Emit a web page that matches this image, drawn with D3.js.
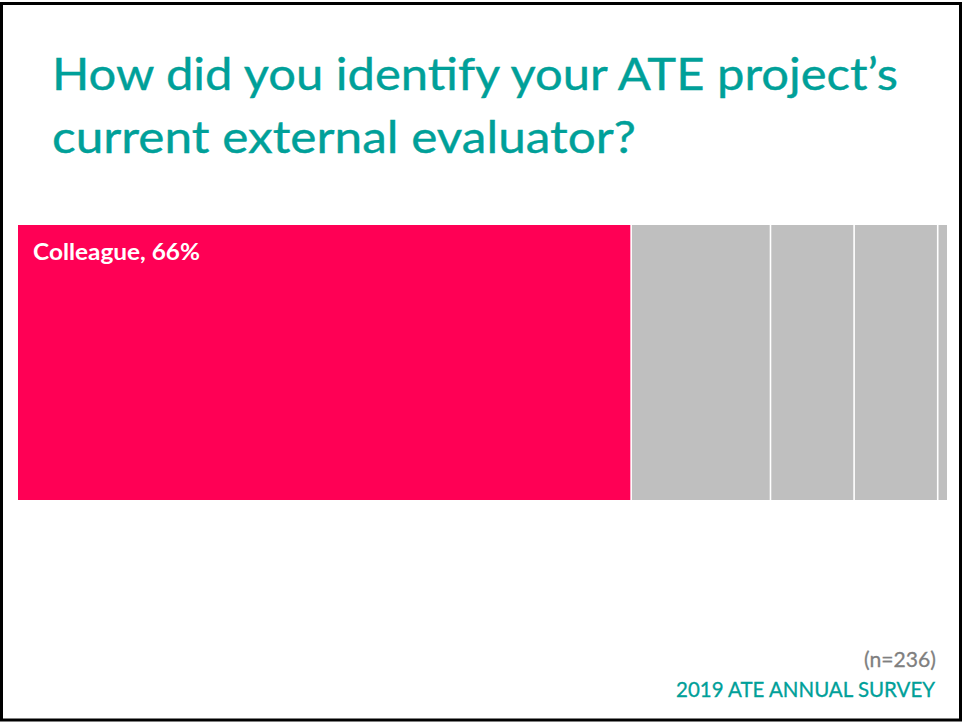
<!DOCTYPE html>
<html>
<head>
<meta charset="utf-8">
<script src="https://cdn.jsdelivr.net/npm/d3@7"></script>
<style>
  html, body { margin: 0; padding: 0; background: #fff; }
  svg { display: block; }
</style>
</head>
<body>
<svg id="chart" width="965" height="724"></svg>
<script>
// ---- data ----
const titleLines = ["How did you identify your ATE project\u2019s", "current external evaluator?"];
const categories = ["Colleague", "Other 1", "Other 2", "Other 3", "Other 4"];
const values = [66, 15, 9, 9, 1];
const showLabel = [true, false, false, false, false];
const sampleNote = "(n=236)";
const sourceNote = "2019 ATE ANNUAL SURVEY";

// ---- styles ----
const teal = "#00A099";
const pink = "#FF0055";
const gray = "#BFBFBF";
const font = "Lato, 'Open Sans', 'Noto Sans', sans-serif";

const svg = d3.select("#chart");

// frame
svg.append("rect")
  .attr("x", 1.5).attr("y", 3.5).attr("width", 959).attr("height", 716.5)
  .attr("fill", "#fff").attr("stroke", "#000").attr("stroke-width", 3);

// title
const titleY = [90, 153];
const titleW = [846, 584];
svg.selectAll("text.title").data(titleLines).join("text")
  .attr("class", "title")
  .attr("x", 52).attr("y", (d, i) => titleY[i])
  .attr("font-family", font).attr("font-size", 45)
  .attr("fill", teal)
  .attr("stroke", teal).attr("stroke-width", 0.4)
  .attr("textLength", (d, i) => titleW[i])
  .attr("lengthAdjust", "spacingAndGlyphs")
  .text(d => d);

// stacked bar
const x = d3.scaleLinear().domain([0, d3.sum(values)]).range([18, 947]);
const y = d3.scaleBand().domain(["all"]).range([225, 500]).padding(0);

let acc = 0;
const segs = values.map((v, i) => {
  const s = { cat: categories[i], v, x0: acc, x1: acc + v, i };
  acc += v;
  return s;
});
const gap = 1.6;
svg.selectAll("rect.seg").data(segs).join("rect")
  .attr("class", "seg")
  .attr("x", d => x(d.x0) + (d.i > 0 ? gap / 2 : 0))
  .attr("y", y("all"))
  .attr("width", d => x(d.x1) - x(d.x0) - (d.i > 0 ? gap / 2 : 0) - (d.i < segs.length - 1 ? gap / 2 : 0))
  .attr("height", y.bandwidth())
  .attr("fill", d => d.i === 0 ? pink : gray);

svg.selectAll("text.seglabel").data(segs.filter(d => showLabel[d.i])).join("text")
  .attr("class", "seglabel")
  .attr("x", d => x(d.x0) + 15)
  .attr("y", y("all") + 35)
  .attr("font-family", font).attr("font-weight", 700).attr("font-size", 23.5)
  .attr("fill", "#fff")
  .attr("textLength", 167)
  .attr("lengthAdjust", "spacingAndGlyphs")
  .text(d => `${d.cat}, ${d.v}%`);

// notes
svg.append("text")
  .attr("x", 936).attr("y", 667)
  .attr("text-anchor", "end")
  .attr("font-family", font).attr("font-size", 20.5)
  .attr("fill", "#7F7F7F")
  .attr("stroke", "#7F7F7F").attr("stroke-width", 0.3)
  .attr("textLength", 72)
  .attr("lengthAdjust", "spacingAndGlyphs")
  .text(sampleNote);

svg.append("text")
  .attr("x", 935).attr("y", 697)
  .attr("text-anchor", "end")
  .attr("font-family", font).attr("font-size", 20.5)
  .attr("fill", teal)
  .attr("stroke", teal).attr("stroke-width", 0.3)
  .attr("textLength", 259)
  .attr("lengthAdjust", "spacingAndGlyphs")
  .text(sourceNote);
</script>
</body>
</html>
